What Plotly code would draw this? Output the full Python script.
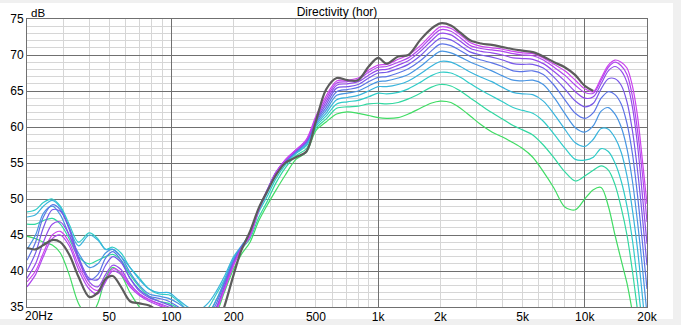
import math
import plotly.graph_objects as go

# ---------------- data ----------------
freq = [20, 22, 24, 26.5, 29, 32, 35.5, 40, 44, 48,
        52, 57, 63, 70, 78, 87, 97, 108, 120, 134,
        150, 165, 180, 200, 218, 240, 265, 290, 320, 355,
        400, 450, 500, 560, 630, 710, 800, 900, 1000, 1100,
        1250, 1400, 1600, 1800, 2000, 2250, 2500, 2800, 3150, 3550,
        4000, 4500, 5000, 5600, 6300, 7100, 8000, 9000, 10000, 11000,
        12000, 13000, 14000, 15000, 16000, 17000, 18000, 19000, 20000]

on_axis = [43.2, 43.0, 43.6, 44.3, 44.0, 42.3, 39.2, 36.4, 37.0, 38.9,
           39.3, 37.8, 35.8, 35.5, 35.2, 34.3, 33.0, 31.5, 30.0, 29.0,
           30.0, 32.0, 35.0, 39.5, 42.9, 45.5, 48.8, 51.0, 53.3, 55.0,
           55.8, 56.6, 60.8, 65.2, 66.8, 66.5, 66.5, 68.4, 69.6, 68.8,
           69.8, 70.0, 72.1, 73.6, 74.4, 74.1, 73.1, 72.0, 71.6, 71.4,
           71.1, 70.8, 70.6, 70.4, 69.8, 69.0, 68.3, 67.2, 65.7, 65.0,
           None, None, None, None, None, None, None, None, None]

c1 = [38.5, 40.0, 42.5, 45.0, 45.5, 44.0, 40.8, 38.0, 37.3, 38.8,
      40.3, 39.8, 38.0, 36.8, 36.0, 35.4, 34.8, 34.0, 33.0, 31.5,
      32.5, 34.5, 37.3, 40.8, 43.0, 44.8, 48.5, 51.0, 53.6, 55.4,
      56.8, 58.3, 61.5, 64.3, 66.4, 66.5, 66.8, 67.9, 68.6, 68.7,
      69.4, 70.0, 71.3, 72.8, 73.9, 73.7, 72.8, 71.7, 71.2, 71.0,
      70.8, 70.5, 70.3, 70.2, 69.6, 68.7, 67.8, 66.5, 65.3, 64.9,
      66.8, 68.6, 69.3, 69.0, 68.2, 65.7, 61.5, 55.4, 49.3]

c2 = [37.8, 39.5, 42.0, 44.5, 45.0, 43.5, 40.2, 37.5, 36.8, 38.5,
      40.0, 39.5, 37.8, 36.6, 35.8, 35.2, 34.6, 33.8, 32.8, 31.5,
      32.6, 34.6, 37.4, 40.9, 43.1, 44.9, 48.6, 51.1, 53.6, 55.4,
      56.8, 58.2, 61.3, 63.9, 66.1, 66.3, 66.6, 67.6, 68.3, 68.4,
      69.0, 69.6, 70.9, 72.4, 73.5, 73.3, 72.4, 71.3, 70.9, 70.7,
      70.5, 70.2, 70.0, 69.9, 69.3, 68.3, 67.2, 65.8, 64.8, 64.7,
      66.5, 68.3, 69.0, 68.5, 67.3, 64.3, 59.5, 53.5, 46.8]

c3 = [39.0, 41.0, 44.0, 46.5, 46.8, 45.0, 41.5, 38.5, 37.8, 39.5,
      40.8, 40.2, 38.2, 36.8, 36.0, 35.5, 35.0, 34.2, 33.0, 31.8,
      32.8, 34.8, 37.6, 41.0, 43.2, 45.0, 48.7, 51.2, 53.7, 55.4,
      56.8, 58.1, 61.1, 63.5, 65.8, 66.0, 66.3, 67.2, 67.9, 68.0,
      68.6, 69.2, 70.5, 71.9, 73.0, 72.8, 71.9, 70.9, 70.5, 70.3,
      70.0, 69.6, 69.5, 69.4, 68.8, 67.7, 66.4, 64.9, 64.0, 64.2,
      66.0, 67.8, 68.4, 67.8, 66.2, 62.8, 57.5, 50.5, 43.8]

c4 = [40.0, 42.5, 46.0, 48.5, 48.3, 46.0, 42.0, 39.0, 38.8, 40.8,
      42.0, 41.2, 39.0, 37.2, 36.3, 35.8, 35.3, 34.5, 33.3, 32.0,
      33.0, 35.0, 37.8, 41.2, 43.3, 45.1, 48.7, 51.2, 53.7, 55.3,
      56.7, 58.0, 60.9, 63.1, 65.4, 65.6, 65.9, 66.8, 67.5, 67.6,
      68.1, 68.7, 69.9, 71.3, 72.3, 72.1, 71.3, 70.4, 70.0, 69.7,
      69.3, 68.8, 68.7, 68.7, 68.2, 66.9, 65.3, 63.6, 62.8, 63.3,
      65.3, 66.7, 66.7, 65.8, 63.5, 59.5, 54.0, 47.5, 40.8]

c5 = [41.5, 44.0, 47.5, 49.2, 48.5, 45.8, 41.8, 38.8, 39.5, 41.8,
      42.7, 41.5, 39.0, 37.4, 36.5, 36.2, 35.8, 35.0, 34.0, 33.0,
      33.5, 35.5, 38.2, 41.4, 43.3, 45.2, 48.7, 51.1, 53.6, 55.2,
      56.6, 57.9, 60.7, 62.7, 64.9, 65.2, 65.5, 66.3, 66.9, 67.0,
      67.5, 68.1, 69.2, 70.5, 71.5, 71.3, 70.6, 69.8, 69.3, 68.9,
      68.4, 67.8, 67.7, 67.8, 67.3, 65.8, 63.8, 61.9, 61.2, 62.0,
      64.0, 64.9, 64.5, 63.2, 60.5, 56.3, 50.5, 44.0, 37.5]

c6 = [43.0, 45.0, 48.0, 49.0, 47.8, 45.0, 42.5, 40.5, 41.0, 42.5,
      43.0, 42.0, 39.8, 38.0, 36.8, 36.5, 36.2, 35.5, 34.5, 33.5,
      34.0, 36.0, 38.5, 41.6, 43.4, 45.2, 48.6, 51.0, 53.5, 55.1,
      56.5, 57.8, 60.5, 62.3, 64.4, 64.7, 65.0, 65.7, 66.3, 66.4,
      66.8, 67.3, 68.4, 69.6, 70.5, 70.3, 69.7, 69.0, 68.4, 67.8,
      67.1, 66.5, 66.4, 66.5, 65.9, 64.1, 61.9, 59.9, 59.3, 60.2,
      62.2, 62.7, 61.8, 60.0, 57.0, 52.5, 46.8, 40.5, 34.0]

c7 = [47.5, 47.8, 49.0, 49.8, 48.8, 46.0, 43.5, 45.0, 44.3, 43.0,
      43.0, 42.0, 40.5, 38.8, 37.5, 37.0, 37.0, 36.0, 35.0, 34.5,
      35.5, 37.2, 39.2, 42.0, 43.5, 45.2, 48.5, 50.8, 53.3, 55.0,
      56.4, 57.6, 60.3, 61.9, 63.8, 64.1, 64.4, 65.0, 65.6, 65.6,
      65.9, 66.4, 67.4, 68.4, 69.1, 69.0, 68.4, 67.6, 66.9, 66.3,
      65.5, 64.8, 64.6, 64.5, 63.6, 61.8, 59.7, 57.8, 57.3, 58.3,
      59.8, 59.7, 58.5, 56.5, 53.2, 48.5, 43.0, 36.5, 30.0]

c8 = [48.2, 48.5, 49.5, 50.0, 49.0, 46.5, 44.0, 45.3, 44.5, 43.0,
      43.3, 42.5, 40.5, 39.0, 37.5, 36.8, 36.7, 35.8, 34.5, 33.5,
      34.8, 36.8, 38.8, 41.8, 43.4, 45.0, 48.2, 50.3, 52.8, 54.7,
      56.3, 57.4, 60.1, 61.5, 63.2, 63.5, 63.7, 64.2, 64.7, 64.6,
      64.8, 65.3, 66.2, 67.1, 67.6, 67.5, 66.9, 66.0, 65.1, 64.3,
      63.5, 62.7, 62.3, 61.9, 60.8, 59.0, 57.1, 55.5, 55.4, 55.8,
      57.0, 56.6, 55.0, 52.5, 49.0, 44.3, 38.5, 32.5, 27.0]

c9 = [46.5, 46.5, 47.0, 47.3, 46.5, 44.5, 42.0, 41.0, 41.5, 42.0,
      42.3, 41.5, 39.5, 37.8, 36.5, 35.8, 35.5, 34.8, 33.8, 33.0,
      34.0, 36.0, 38.3, 41.2, 43.0, 44.5, 47.5, 49.6, 52.2, 54.3,
      56.0, 57.0, 59.8, 61.1, 62.6, 62.8, 62.9, 63.2, 63.3, 63.2,
      63.4, 63.9, 64.7, 65.5, 65.9, 65.7, 65.0, 64.0, 63.0, 62.0,
      61.1, 60.2, 59.6, 58.9, 57.5, 55.7, 53.8, 52.5, 53.2, 54.0,
      54.6, 54.0, 52.0, 48.8, 45.0, 40.0, 34.5, 29.0, 24.0]

c10 = [44.8, 44.5, 44.0, 43.6, 42.5, 39.5, 35.5, 33.5, 35.5, 39.0,
       40.5, 39.5, 37.0, 35.0, 33.5, 32.5, 32.0, 31.0, 30.0, 30.0,
       31.5, 34.0, 37.0, 40.3, 42.3, 44.0, 47.0, 49.1, 51.2, 53.3,
       55.5, 56.5, 59.5, 60.7, 61.8, 62.1, 61.9, 61.6, 61.3, 61.2,
       61.3, 61.8, 62.6, 63.3, 63.6, 63.4, 62.6, 61.5, 60.3, 59.3,
       58.6, 57.8, 57.0, 55.8, 53.8, 51.5, 48.9, 48.5, 50.0, 51.3,
       51.6, 49.0, 45.0, 41.5, 38.3, 34.3, 30.0, 26.0, 22.0]

curve_colors = ['#cc44ee', '#b046ee', '#944aea', '#7858e8', '#5c74e6',
                '#4894e2', '#38b4dc', '#30ccc8', '#30d8a0', '#40dc64']

label_vals = [50, 100, 200, 500, 1000, 2000, 5000, 10000, 20000]
label_text = ['50', '100', '200', '500', '1k', '2k', '5k', '10k', '20k']
first_label = '20Hz'
major_x = [100, 1000, 10000]
minor_x = [30, 40, 50, 60, 70, 80, 90,
           200, 300, 400, 500, 600, 700, 800, 900,
           2000, 3000, 4000, 5000, 6000, 7000, 8000, 9000]

# ---------------- figure ----------------
FONT = 'Liberation Sans, Arial, sans-serif'
curves = [c1, c2, c3, c4, c5, c6, c7, c8, c9, c10]

fig = go.Figure()
for vals, col in list(zip(curves, curve_colors))[::-1]:
    fig.add_trace(go.Scatter(
        x=freq, y=vals, mode='lines',
        line=dict(color=col, width=1.2, shape='spline', smoothing=0.9),
        hoverinfo='skip', showlegend=False, connectgaps=False))
fig.add_trace(go.Scatter(
    x=freq, y=on_axis, mode='lines',
    line=dict(color='#5c5c5c', width=2.2, shape='spline', smoothing=0.9),
    hoverinfo='skip', showlegend=False, connectgaps=False))
# empty trace to activate the label axis
fig.add_trace(go.Scatter(x=[], y=[], xaxis='x2', yaxis='y',
                         hoverinfo='skip', showlegend=False))

xr = [math.log10(20), math.log10(20000)]
fig.update_layout(
    width=681, height=325,
    margin=dict(l=27, r=34, t=19, b=18, pad=0, autoexpand=False),
    paper_bgcolor='#f0f0f0', plot_bgcolor='white',
    font=dict(family=FONT, size=12, color='black'),
    showlegend=False, hovermode=False,
    title=dict(text='Directivity (hor)', x=0.5, xref='paper', xanchor='center',
               y=1 - 12 / 325, yref='container', yanchor='middle',
               font=dict(family=FONT, size=12, color='black'),
               automargin=False),
    xaxis=dict(type='log', range=xr, tickvals=major_x, showticklabels=False,
               ticks='', showgrid=True, gridcolor='#707070', gridwidth=1,
               minor=dict(tickvals=minor_x, showgrid=True, gridcolor='#d6d6d6',
                          gridwidth=1, ticks=''),
               showline=True, mirror=True, linecolor='#707070', linewidth=1,
               zeroline=False, fixedrange=True, automargin=False),
    xaxis2=dict(type='log', range=xr, overlaying='x', anchor='y', side='bottom',
                tickvals=label_vals, ticktext=label_text, showgrid=False,
                ticks='', showline=False, zeroline=False, automargin=False,
                ticklabelstandoff=1,
                tickfont=dict(family=FONT, size=12, color='black')),
    yaxis=dict(range=[35, 75], tick0=35, dtick=5, ticks='',
               showgrid=True, gridcolor='#707070', gridwidth=1,
               minor=dict(dtick=1, showgrid=True, gridcolor='#d6d6d6',
                          gridwidth=1, ticks=''),
               showline=True, mirror=True, linecolor='#707070', linewidth=1,
               zeroline=False, fixedrange=True, automargin=False,
               tickfont=dict(family=FONT, size=12, color='black')),
    shapes=[dict(type='rect', xref='paper', yref='paper', layer='below',
                 x0=-27 / 620, x1=(673 - 27) / 620,
                 y0=(307 - 319) / 288, y1=(307 - 3) / 288,
                 fillcolor='white', line=dict(width=0))],
    annotations=[
        dict(text='dB', xref='paper', yref='paper',
             x=2 / 620, y=(307 - 12.5) / 288, xanchor='left',
             yanchor='middle', showarrow=False,
             font=dict(family=FONT, size=11.5, color='black')),
        dict(text=first_label, xref='paper', yref='paper',
             x=(-4) / 620, y=-(316 - 307) / 288, xanchor='left',
             yanchor='middle', showarrow=False,
             font=dict(family=FONT, size=12, color='black')),
    ],
)

fig.write_html('out.html')
